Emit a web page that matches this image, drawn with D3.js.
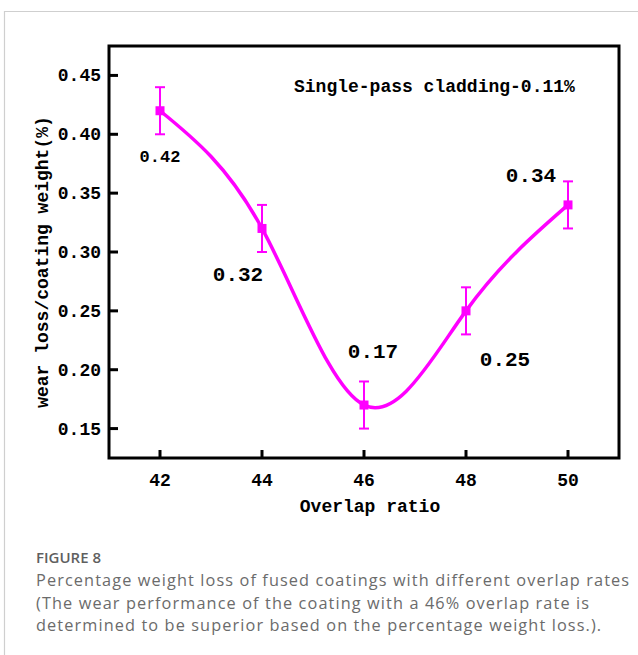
<!DOCTYPE html>
<html>
<head>
<meta charset="utf-8">
<script src="https://cdn.jsdelivr.net/npm/d3@7"></script>
<style>
  body { margin: 0; background: #fff; }
</style>
</head>
<body>
<div id="main-section"></div>
<script>
// data
const overlapRatio = [42, 44, 46, 48, 50];
const weightLoss = [0.42, 0.32, 0.17, 0.25, 0.34];
const errorBar = [0.02, 0.02, 0.02, 0.02, 0.02];
const xTickValues = [42, 44, 46, 48, 50];
const yTickValues = [0.15, 0.20, 0.25, 0.30, 0.35, 0.40, 0.45];
const annotationText = "Single-pass cladding-0.11%";
const xTitle = "Overlap ratio";
const yTitle = "wear loss/coating weight(%)";
const captionHead = "FIGURE 8";
const captionLines = [
  "Percentage weight loss of fused coatings with different overlap rates",
  "(The wear performance of the coating with a 46% overlap rate is",
  "determined to be superior based on the percentage weight loss.)."
];

// label placement (offset from its point), kept apart from data
const labelOffsets = [[0, 51, 17], [-24, 53, 21], [9, -47, 21], [39, 55, 21], [-37, -23, 21]];

const W = 638, H = 655;
const magenta = "#ff00ff";
const monoFont = "'Liberation Mono', 'DejaVu Sans Mono', monospace";

const svg = d3.select("#main-section")
  .append("svg")
    .attr("width", W)
    .attr("height", H);

// card outline
svg.append("path")
  .attr("d", "M4.5," + (H + 2) + " V11.5 H" + (W + 2))
  .attr("fill", "none")
  .attr("stroke", "#cfcfcf")
  .attr("stroke-width", 1.2);

const x = d3.scaleLinear().domain([41, 51]).range([109, 619]);
const y = d3.scaleLinear().domain([0.125, 0.475]).range([458, 46]);

const plot = svg.append("g");

// ticks (inward)
plot.selectAll("line.ytick")
  .data(yTickValues).enter()
  .append("line")
    .attr("class", "ytick")
    .attr("x1", x(41)).attr("x2", x(41) + 9)
    .attr("y1", d => y(d)).attr("y2", d => y(d))
    .attr("stroke", "#000").attr("stroke-width", 3);

plot.selectAll("line.xtick")
  .data(xTickValues).enter()
  .append("line")
    .attr("class", "xtick")
    .attr("x1", d => x(d)).attr("x2", d => x(d))
    .attr("y1", y(0.125)).attr("y2", y(0.125) - 8)
    .attr("stroke", "#000").attr("stroke-width", 3);

// frame
plot.append("rect")
  .attr("x", x(41)).attr("y", y(0.475))
  .attr("width", x(51) - x(41))
  .attr("height", y(0.125) - y(0.475))
  .attr("fill", "none")
  .attr("stroke", "#000")
  .attr("stroke-width", 3);

// tick labels
plot.selectAll("text.ylab")
  .data(yTickValues).enter()
  .append("text")
    .attr("class", "ylab")
    .attr("x", x(41) - 8)
    .attr("y", d => y(d) + 6)
    .attr("text-anchor", "end")
    .attr("font-family", monoFont)
    .attr("font-weight", "bold")
    .attr("font-size", 18)
    .text(d => d.toFixed(2));

plot.selectAll("text.xlab")
  .data(xTickValues).enter()
  .append("text")
    .attr("class", "xlab")
    .attr("x", d => x(d))
    .attr("y", y(0.125) + 28)
    .attr("text-anchor", "middle")
    .attr("font-family", monoFont)
    .attr("font-weight", "bold")
    .attr("font-size", 18)
    .text(d => d);

// axis titles
plot.append("text")
  .attr("x", 370).attr("y", 512)
  .attr("text-anchor", "middle")
  .attr("font-family", monoFont)
  .attr("font-weight", "bold")
  .attr("font-size", 18)
  .text(xTitle);

plot.append("text")
  .attr("transform", "translate(48," + 262 + ") rotate(-90)")
  .attr("text-anchor", "middle")
  .attr("font-family", monoFont)
  .attr("font-weight", "bold")
  .attr("font-size", 18)
  .text(yTitle);

plot.append("text")
  .attr("x", 294).attr("y", 92)
  .attr("font-family", monoFont)
  .attr("font-weight", "bold")
  .attr("font-size", 18)
  .text(annotationText);

// smooth curve
const pts = overlapRatio.map((d, i) => [d, weightLoss[i]]);
const line = d3.line()
  .x(d => x(d[0]))
  .y(d => y(d[1]))
  .curve(d3.curveNatural);

plot.append("path")
  .datum(pts)
  .attr("d", line)
  .attr("fill", "none")
  .attr("stroke", magenta)
  .attr("stroke-width", 3.5);

// error bars
const eb = plot.selectAll("g.eb")
  .data(pts).enter()
  .append("g")
    .attr("class", "eb");

eb.append("line")
  .attr("x1", d => x(d[0])).attr("x2", d => x(d[0]))
  .attr("y1", (d, i) => y(d[1] + errorBar[i]))
  .attr("y2", (d, i) => y(d[1] - errorBar[i]))
  .attr("stroke", magenta).attr("stroke-width", 2);

[1, -1].forEach(function(s) {
  eb.append("line")
    .attr("x1", d => x(d[0]) - 5).attr("x2", d => x(d[0]) + 5)
    .attr("y1", (d, i) => y(d[1] + s * errorBar[i]))
    .attr("y2", (d, i) => y(d[1] + s * errorBar[i]))
    .attr("stroke", magenta).attr("stroke-width", 2);
});

eb.append("rect")
  .attr("x", d => x(d[0]) - 4.5)
  .attr("y", d => y(d[1]) - 4.5)
  .attr("width", 9).attr("height", 9)
  .attr("fill", magenta);

// value labels
plot.selectAll("text.val")
  .data(pts).enter()
  .append("text")
    .attr("class", "val")
    .attr("x", (d, i) => x(d[0]) + labelOffsets[i][0])
    .attr("y", (d, i) => y(d[1]) + labelOffsets[i][1])
    .attr("text-anchor", "middle")
    .attr("font-family", monoFont)
    .attr("font-weight", "bold")
    .attr("font-size", (d, i) => labelOffsets[i][2])
    .text(d => d[1].toFixed(2));

// caption
const cap = svg.append("g")
  .attr("font-family", "'Open Sans', 'Noto Sans', sans-serif");

cap.append("text")
  .attr("x", 36).attr("y", 563)
  .attr("font-size", 15)
  .attr("font-weight", 600)
  .attr("fill", "#5f5f5f")
  .text(captionHead);

const capLines = cap.selectAll("text.cl")
  .data(captionLines).enter()
  .append("text")
    .attr("class", "cl")
    .attr("x", 36)
    .attr("y", (d, i) => 586 + i * 22.5)
    .attr("font-size", 16.3)
    .attr("fill", "#6b6b6b")
    .text(d => d);

// widen the caption with letter spacing so line one spans the card as in the figure
const firstText = captionLines[0];
const firstLen = capLines.node().getComputedTextLength();
capLines.attr("letter-spacing", ((593 - firstLen) / (firstText.length - 1)).toFixed(2) + "px");
</script>
</body>
</html>
